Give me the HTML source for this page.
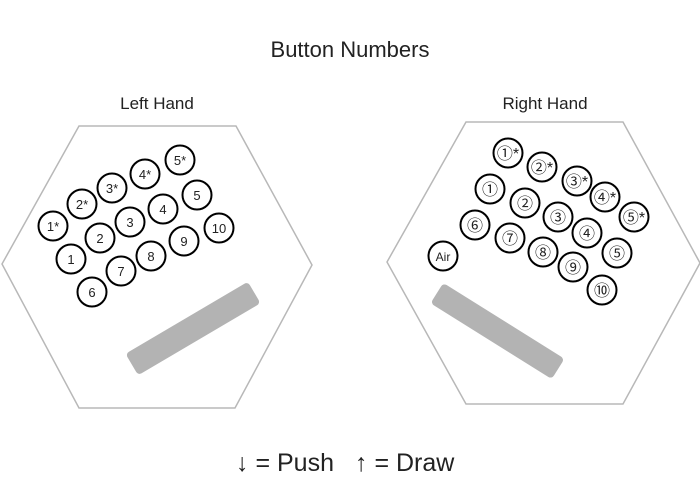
<!DOCTYPE html>
<html><head><meta charset="utf-8"><style>
body{margin:0;background:#fff;}
svg{display:block;font-family:"Liberation Sans",Arial,"Noto Sans CJK JP",sans-serif;}
</style></head><body>
<svg width="700" height="499" viewBox="0 0 700 499" xmlns="http://www.w3.org/2000/svg">
<rect width="700" height="499" fill="#fff"/>
<text x="350" y="57" font-size="22" text-anchor="middle" fill="#222">Button Numbers</text>
<text x="157" y="109" font-size="17" text-anchor="middle" fill="#222">Left Hand</text>
<text x="545" y="109" font-size="17" text-anchor="middle" fill="#222">Right Hand</text>
<polygon points="79,126 236,126 312,265 235,408 79,408 2,264" fill="none" stroke="#b8b8b8" stroke-width="1.5"/>
<polygon points="466,122 623,122 700,263 623,404 466,404 387,262" fill="none" stroke="#b8b8b8" stroke-width="1.5"/>
<rect x="122" y="316" width="142" height="25" rx="4" fill="#b3b3b3" transform="rotate(-30.5 193 328.5)"/>
<rect x="426" y="319" width="143" height="24" rx="4" fill="#b3b3b3" transform="rotate(32 497.5 331)"/>
<g fill="#fff" stroke="#000" stroke-width="2">
<circle cx="53" cy="226" r="14.5"/><circle cx="82" cy="204" r="14.5"/><circle cx="112" cy="188" r="14.5"/><circle cx="145" cy="174" r="14.5"/><circle cx="180" cy="160" r="14.5"/>
<circle cx="197" cy="195" r="14.5"/><circle cx="163" cy="209" r="14.5"/><circle cx="130" cy="222" r="14.5"/><circle cx="100" cy="238" r="14.5"/><circle cx="71" cy="259" r="14.5"/>
<circle cx="219" cy="228" r="14.5"/><circle cx="184" cy="241" r="14.5"/><circle cx="151" cy="256" r="14.5"/><circle cx="121" cy="271" r="14.5"/><circle cx="92" cy="292" r="14.5"/>
<circle cx="508" cy="153" r="14.5"/><circle cx="542" cy="167" r="14.5"/><circle cx="577" cy="181" r="14.5"/><circle cx="605" cy="197" r="14.5"/><circle cx="634" cy="217" r="14.5"/>
<circle cx="490" cy="189" r="14.5"/><circle cx="525" cy="203" r="14.5"/><circle cx="558" cy="217" r="14.5"/><circle cx="587" cy="233" r="14.5"/><circle cx="617" cy="253" r="14.5"/>
<circle cx="475" cy="225" r="14.5"/><circle cx="510" cy="238" r="14.5"/><circle cx="543" cy="252" r="14.5"/><circle cx="573" cy="267" r="14.5"/><circle cx="602" cy="290" r="14.5"/>
<circle cx="443" cy="256" r="14.5"/>
</g>
<g font-size="13" text-anchor="middle" fill="#222">
<text x="53" y="231">1*</text><text x="82" y="209">2*</text><text x="112" y="193">3*</text><text x="145" y="179">4*</text><text x="180" y="165">5*</text>
<text x="197" y="200">5</text><text x="163" y="214">4</text><text x="130" y="227">3</text><text x="100" y="243">2</text><text x="71" y="264">1</text>
<text x="219" y="233">10</text><text x="184" y="246">9</text><text x="151" y="261">8</text><text x="121" y="276">7</text><text x="92" y="297">6</text>
</g>
<g font-size="16" text-anchor="middle" fill="#222">
<text x="508" y="159">①*</text><text x="542" y="173">②*</text><text x="577" y="187">③*</text><text x="605" y="203">④*</text><text x="634" y="223">⑤*</text>
<text x="490" y="195">①</text><text x="525" y="209">②</text><text x="558" y="223">③</text><text x="587" y="239">④</text><text x="617" y="259">⑤</text>
<text x="475" y="231">⑥</text><text x="510" y="244">⑦</text><text x="543" y="258">⑧</text><text x="573" y="273">⑨</text><text x="602" y="296">⑩</text>
</g>
<text x="443" y="261" font-size="12" text-anchor="middle" fill="#222">Air</text>
<text x="236" y="471" font-size="25" fill="#222">↓ = Push</text>
<text x="355" y="471" font-size="25" fill="#222">↑ = Draw</text>
</svg>
</body></html>
